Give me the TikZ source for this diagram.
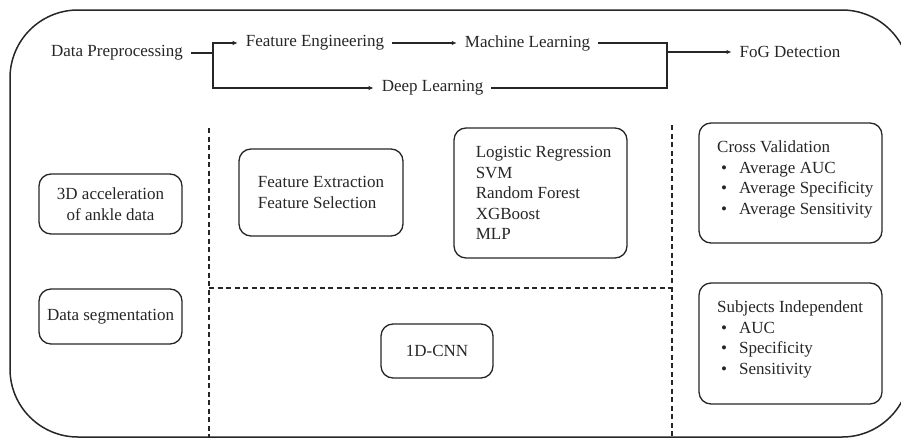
\documentclass[tikz,border=0pt]{standalone}
\usepackage{fontspec}
\setmainfont{Liberation Serif}
\usetikzlibrary{arrows.meta}
\definecolor{ink}{HTML}{262626}
\tikzset{
  flow/.style={inner xsep=8pt, inner ysep=2pt, text=ink, font=\fontsize{17}{20.6}\selectfont},
  box/.style={draw=ink, line width=1.3pt, rounded corners=12pt, text=ink,
              font=\fontsize{17}{20.6}\selectfont, align=left, inner sep=0pt},
  listtext/.style={text=ink, font=\fontsize{17}{20.6}\selectfont, align=left,
              inner sep=0pt, anchor=north west},
  link/.style={draw=ink, line width=1.2pt},
  arrow/.style={link, -{Latex[length=5pt,width=4.5pt]}},
  divider/.style={draw=ink, line width=1.2pt, dash pattern=on 5pt off 3.5pt},
}
\newcommand{\bul}[1]{\hspace*{4pt}\makebox[18pt][l]{\textbullet}#1}
\begin{document}
\begin{tikzpicture}[x=1pt, y=-1pt]
\useasboundingbox (0,0) rectangle (901,439);

% outer frame with large rounded corners
\draw[ink, line width=1.5pt]
  (10,78) .. controls (10,40.4) and (40.4,10) .. (78,10)
  -- (842,10) .. controls (879.6,10) and (910,40.4) .. (910,78)
  -- (910,369) .. controls (910,406.6) and (879.6,437) .. (842,437)
  -- (78,437) .. controls (40.4,437) and (10,406.6) .. (10,369) -- cycle;

% pipeline across the top
\node[flow] (dp)  at (117,53)   {Data Preprocessing};
\node[flow] (fe)  at (315,43)   {Feature Engineering};
\node[flow] (ml)  at (527.5,43) {Machine Learning};
\node[flow] (dl)  at (432.5,88) {Deep Learning};
\node[flow] (fog) at (790,52)   {FoG Detection};

\coordinate (j1) at (213,53);
\coordinate (j2) at (667,52);

\draw[link] (dp.east) -- (j1);
\draw[arrow] (j1) |- (fe.west);
\draw[arrow] (j1) |- (dl.west);
\draw[arrow] (fe.east) -- (ml.west);
\draw[link] (ml.east) -| (j2) |- (dl.east);
\draw[arrow] (j2) -- (fog.west);

% dashed separators
\coordinate (v1t) at (209,128);
\coordinate (v1b) at (209,437);
\coordinate (v2t) at (672,125);
\coordinate (v2b) at (672,437);
\coordinate (hl)  at (209,288);
\coordinate (hr)  at (672,288);
\draw[divider] (v1t) -- (v1b);
\draw[divider] (v2t) -- (v2b);
\draw[divider] (hl) -- (hr);

% data column
\node[box, minimum width=143pt, minimum height=60pt, align=center] (acc) at (110.5,204)
  {3D acceleration\\of ankle data};
\node[box, minimum width=143pt, minimum height=55pt] (seg) at (110.5,316.5)
  {Data segmentation};

% feature engineering and classical models
\node[box, minimum width=164pt, minimum height=87pt] (feat) at (321,192.5)
  {Feature Extraction\\Feature Selection};
\node[box, minimum width=173pt, minimum height=130pt] (models) at (540.5,193)
  {\hspace*{6pt}Logistic Regression\\\hspace*{6pt}SVM\\\hspace*{6pt}Random Forest\\\hspace*{6pt}XGBoost\\\hspace*{6pt}MLP};

% deep model
\node[box, minimum width=112pt, minimum height=54pt] (cnn) at (437,351) {1D-CNN};

% evaluation
\node[box, minimum width=183pt, minimum height=120pt] (cv) at (790.5,183) {};
\node[listtext] (cvtext) at (717,140.5)
  {Cross Validation\\\bul{Average AUC}\\\bul{Average Specificity}\\\bul{Average Sensitivity}};
\node[box, minimum width=183pt, minimum height=121pt] (si) at (790.5,343.5) {};
\node[listtext] (sitext) at (717,300.5)
  {Subjects Independent\\\bul{AUC}\\\bul{Specificity}\\\bul{Sensitivity}};
\end{tikzpicture}
\end{document}
